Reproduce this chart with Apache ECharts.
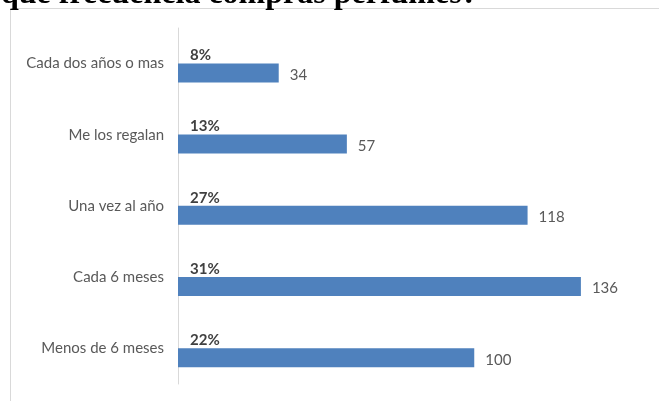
<!DOCTYPE html>
<html>
<head>
<meta charset="utf-8">
<script src="https://cdn.jsdelivr.net/npm/echarts@6/dist/echarts.min.js"></script>
<style>
  html, body { margin: 0; padding: 0; background: #ffffff; }
  #chart { width: 659px; height: 401px; }
</style>
</head>
<body>
<div id="chart"></div>
<script>
// Frequency of perfume purchases (top to bottom)
const categories = ['Cada dos años o mas', 'Me los regalan', 'Una vez al año', 'Cada 6 meses', 'Menos de 6 meses'];
const counts = [34, 57, 118, 136, 100];
const percents = [8, 13, 27, 31, 22];
const titleText = 'qué frecuencia compras perfumes?';

const chart = echarts.init(document.getElementById('chart'), null, { renderer: 'canvas' });

chart.setOption({
  animation: false,
  backgroundColor: '#ffffff',
  graphic: [
    {
      type: 'text',
      left: 1,
      top: -21,
      style: {
        text: titleText,
        font: 'bold 32px "Liberation Serif", "Times New Roman", serif',
        fill: '#000000'
      },
      z: 10
    },
    {
      type: 'line',
      shape: { x1: 10, y1: 8.5, x2: 659, y2: 8.5 },
      style: { stroke: '#d9d9d9', lineWidth: 1 }
    },
    {
      type: 'line',
      shape: { x1: 10.5, y1: 8, x2: 10.5, y2: 401 },
      style: { stroke: '#d9d9d9', lineWidth: 1 }
    }
  ],
  grid: { left: 178, right: 7, top: 28, bottom: 17, containLabel: false },
  xAxis: {
    type: 'value',
    min: 0,
    max: 160,
    show: false
  },
  yAxis: {
    type: 'category',
    inverse: true,
    data: categories,
    axisLine: { show: true, lineStyle: { color: '#d9d9d9', width: 1 } },
    axisTick: { show: false },
    axisLabel: {
      color: '#595959',
      fontFamily: 'Lato',
      fontSize: 15,
      margin: 14
    },
    splitLine: { show: false }
  },
  series: [
    {
      name: 'Porcentaje',
      type: 'bar',
      data: percents,
      barWidth: 19,
      barGap: '-2%',
      itemStyle: { color: 'rgba(0,0,0,0)' },
      label: {
        show: true,
        position: [12, '50%'],
        align: 'left',
        verticalAlign: 'middle',
        offset: [0, 1],
        formatter: p => p.value + '%',
        color: '#404040',
        fontFamily: 'Lato',
        fontWeight: 'bold',
        fontSize: 15
      },
      silent: true
    },
    {
      name: 'Cantidad',
      type: 'bar',
      data: counts,
      barWidth: 19,
      itemStyle: { color: '#4f81bd' },
      label: {
        show: true,
        position: 'right',
        distance: 11,
        offset: [0, 2],
        color: '#595959',
        fontFamily: 'Lato',
        fontSize: 15
      }
    }
  ]
});
</script>
</body>
</html>
